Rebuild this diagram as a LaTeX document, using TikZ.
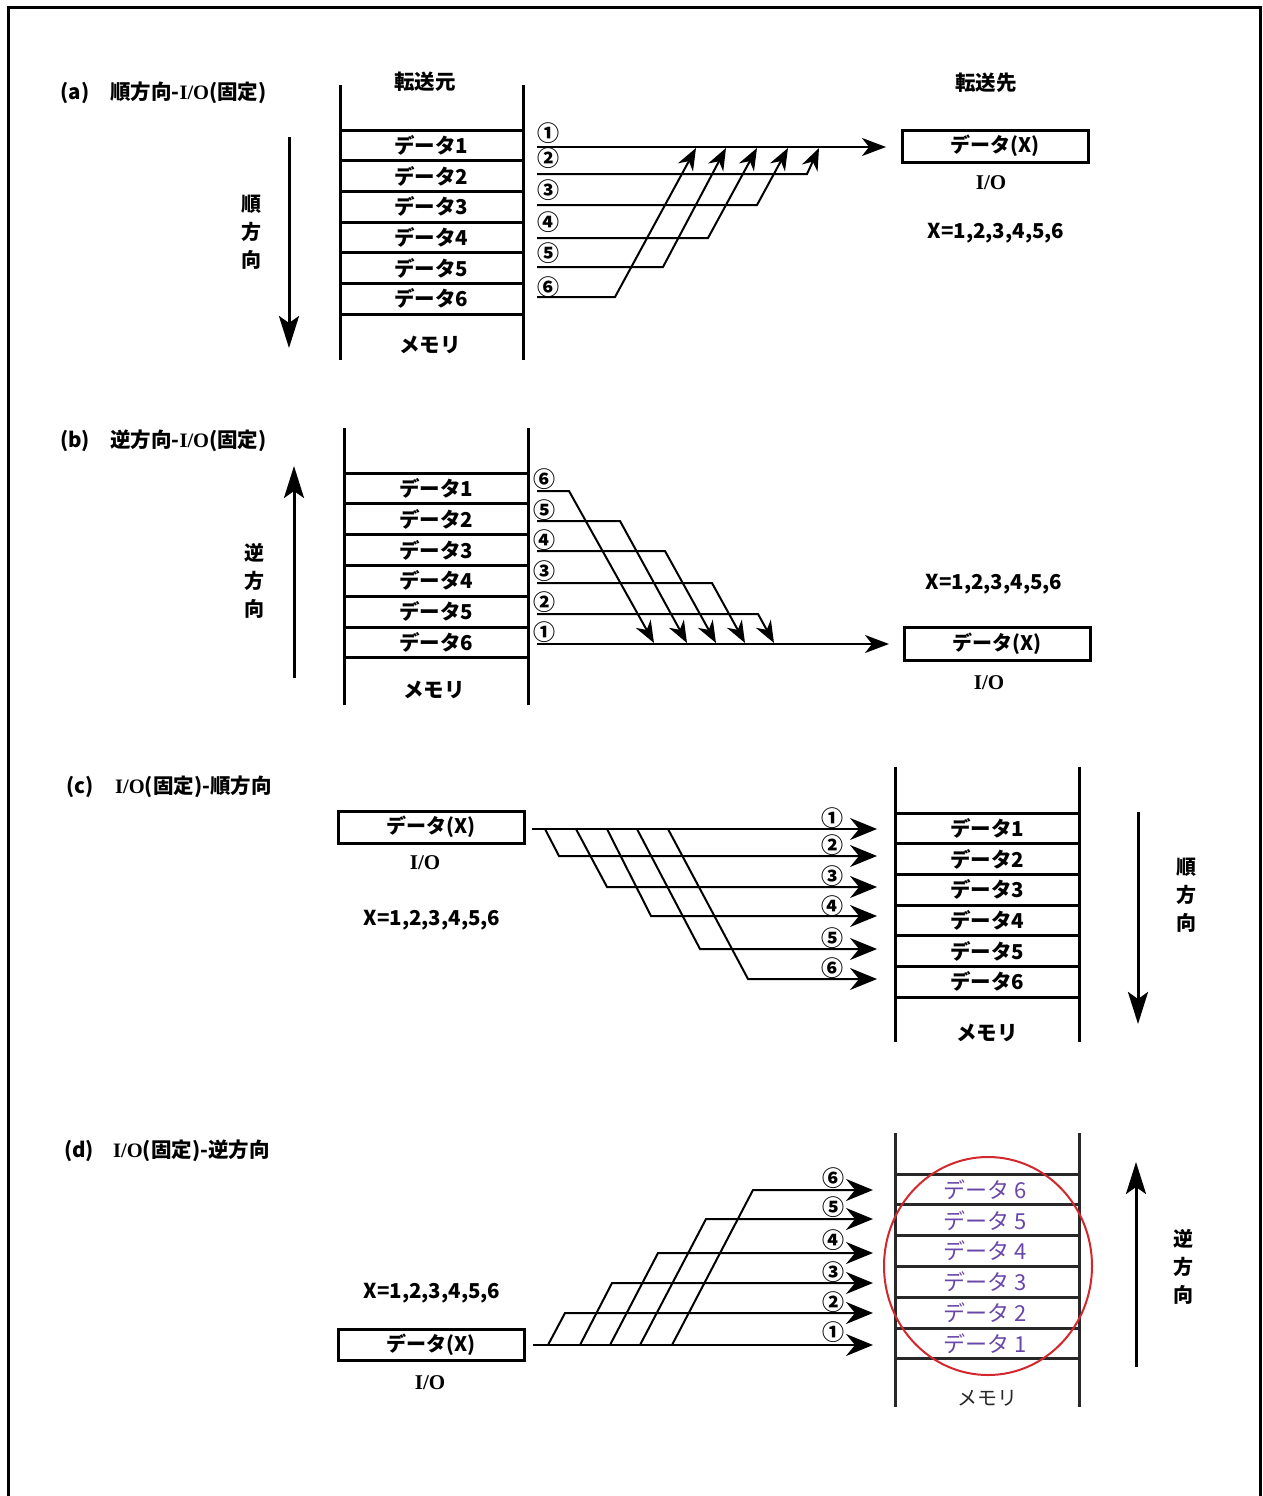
\documentclass[tikz,border=0pt]{standalone}
\usepackage{fontspec}
\newfontfamily\jp{Noto Sans CJK JP}
\newfontfamily\ioser{Liberation Serif}
\usetikzlibrary{arrows.meta}
\definecolor{dpurple}{RGB}{105,70,170}
\definecolor{cred}{RGB}{210,40,45}
\definecolor{dgray}{RGB}{40,40,40}
\begin{document}
\begin{tikzpicture}[x=1pt,y=-1pt,
  frame/.style={line width=3pt},
  mem/.style={line width=3pt},
  wire/.style={line width=2pt},
  bigarrow/.style={line width=3pt,-{Stealth[length=32pt,width=20pt,inset=7pt]}},
  tipbig/.style={-{Stealth[length=27pt,width=22pt,inset=9pt]}},
  tipmid/.style={-{Stealth[length=24pt,width=18pt,inset=7pt]}},
  tipsm/.style={-{Stealth[length=22pt,width=17pt,inset=7pt]}},
  jtxt/.style={font=\jp\bfseries\fontsize{20.5}{22}\selectfont,inner sep=0pt},
  vtxt/.style={font=\jp\bfseries\fontsize{20}{28}\selectfont,inner sep=0pt,align=center},
  ntxt/.style={font=\jp\bfseries\fontsize{22}{22}\selectfont,inner sep=0pt},
  iotxt/.style={font=\ioser\bfseries\fontsize{21}{21}\selectfont,inner sep=0pt},
  pdata/.style={font=\jp\fontsize{22}{22}\selectfont,inner sep=0pt,text=dpurple},
  iobox/.style={draw,line width=3pt,minimum width=186pt,minimum height=32pt,inner sep=0pt,
    font=\jp\bfseries\fontsize{20}{22}\selectfont}
]
\useasboundingbox (0,0) rectangle (1263,1496);
% frame
\coordinate (fbl) at (8,1496); \coordinate (ftl) at (8,8);
\coordinate (ftr) at (1260,8); \coordinate (fbr) at (1260,1496);
\draw[frame] (fbl) -- (ftl) -- (ftr) -- (fbr);

% ================= (a) =================
\node[jtxt] (ta) at (75,93) {(a)};
\node[jtxt,anchor=west] (tta) at (110,93) {順方向-{\ioser I/O}(固定)};
\node[jtxt] (srcA) at (425,82) {転送元};
\node[jtxt] (dstA) at (986,83) {転送先};
\draw[mem] (340,85) -- (340,360);
\draw[mem] (523,85) -- (523,360);
\foreach \i in {0,...,6} \draw[mem] (340,{130+30.67*\i}) -- (523,{130+30.67*\i});
\foreach \i in {1,...,6} \node[jtxt] (ma\i) at (431,{130+30.67*(\i-0.5)}) {データ\i};
\node[jtxt] (mema) at (430,345) {メモリ};
\node[vtxt] (dira) at (251,232) {順\\方\\向};
\coordinate (arA1) at (289,137); \coordinate (arA2) at (289,348);
\draw[bigarrow] (arA1) -- (arA2);
\node[iobox] (ioA) at (995,146) {データ(X)};
\node[iotxt] (ioAl) at (991,183) {I/O};
\node[jtxt] (xA) at (996,233) {X=1,2,3,4,5,6};
% circled numbers
\foreach \n/\y in {①/133,②/158,③/190,④/222,⑤/253,⑥/287}
  \node[ntxt] at (548,\y) {\n};
\coordinate (a1s) at (537,147);
\coordinate (a1t) at (886,147);
\draw[wire,tipmid] (a1s) -- (a1t);
\foreach \k/\y/\xe/\xt in {2/174/807/819,3/205/757/788,4/238/708/757,5/267/663/726,6/297/615/696}{
  \coordinate (aS\k) at (537,\y);
  \coordinate (aE\k) at (\xe,\y);
  \coordinate (aT\k) at (\xt,148);
  \draw[wire,tipsm] (aS\k) -- (aE\k) -- (aT\k);
}

% ================= (b) =================
\node[jtxt] (tb) at (75,441) {(b)};
\node[jtxt,anchor=west] (ttb) at (110,441) {逆方向-{\ioser I/O}(固定)};
\draw[mem] (344,428) -- (344,705);
\draw[mem] (528,428) -- (528,705);
\foreach \i in {0,...,6} \draw[mem] (344,{473+30.83*\i}) -- (528,{473+30.83*\i});
\foreach \i in {1,...,6} \node[jtxt] (mb\i) at (436,{473+30.83*(\i-0.5)}) {データ\i};
\node[jtxt] (memb) at (434,690) {メモリ};
\node[vtxt] (dirb) at (254,581) {逆\\方\\向};
\coordinate (arB1) at (294,678); \coordinate (arB2) at (294,466);
\draw[bigarrow] (arB1) -- (arB2);
\node[iobox,minimum height=33pt] (ioB) at (997,643.5) {データ(X)};
\node[iotxt] (ioBl) at (989,683) {I/O};
\node[jtxt] (xB) at (994,584) {X=1,2,3,4,5,6};
\foreach \n/\y in {⑥/479,⑤/510,④/540,③/571,②/602,①/632}
  \node[ntxt] at (544,\y) {\n};
\coordinate (b1s) at (537,644);
\coordinate (b1t) at (889,644);
\draw[wire,tipmid] (b1s) -- (b1t);
\foreach \k/\y/\xe/\xt in {2/614/758/774,3/583/712/745,4/551/665/716,5/521/620/687,6/491/569/654}{
  \coordinate (bS\k) at (537,\y);
  \coordinate (bE\k) at (\xe,\y);
  \coordinate (bT\k) at (\xt,643);
  \draw[wire,tipsm] (bS\k) -- (bE\k) -- (bT\k);
}

% ================= (c) =================
\node[jtxt] (tc) at (80,787) {(c)};
\node[jtxt,anchor=west] (ttc) at (115,787) {{\ioser I/O}(固定)-順方向};
\node[iobox] (ioC) at (431,827) {データ(X)};
\node[iotxt] (ioCl) at (425,863) {I/O};
\node[jtxt] (xC) at (432,920) {X=1,2,3,4,5,6};
\draw[mem] (895,767) -- (895,1042);
\draw[mem] (1079,767) -- (1079,1042);
\foreach \i in {0,...,6} \draw[mem] (895,{813+30.67*\i}) -- (1079,{813+30.67*\i});
\foreach \i in {1,...,6} \node[jtxt] (mc\i) at (987,{813+30.67*(\i-0.5)}) {データ\i};
\node[jtxt] (memc) at (987,1033) {メモリ};
\node[vtxt] (dirc) at (1186,895) {順\\方\\向};
\coordinate (arC1) at (1138,812); \coordinate (arC2) at (1138,1024);
\draw[bigarrow] (arC1) -- (arC2);
\foreach \n/\y in {①/818,②/845,③/876,④/906,⑤/938,⑥/968}
  \node[ntxt] at (832,\y) {\n};
\coordinate (c1s) at (532,829);
\coordinate (c1t) at (877,829);
\draw[wire,tipbig] (c1s) -- (c1t);
\foreach \k/\y/\xb/\xc in {2/856/545/559,3/887/576/607,4/916/607/651,5/949/637/700,6/979/668/748}{
  \coordinate (cB\k) at (\xb,829);
  \coordinate (cC\k) at (\xc,\y);
  \coordinate (cT\k) at (877,\y);
  \draw[wire,tipbig] (cB\k) -- (cC\k) -- (cT\k);
}

% ================= (d) =================
\node[jtxt] (td) at (79,1151) {(d)};
\node[jtxt,anchor=west] (ttd) at (113,1151) {{\ioser I/O}(固定)-逆方向};
\node[iobox,minimum height=31pt] (ioD) at (431,1344.5) {データ(X)};
\node[iotxt] (ioDl) at (430,1383) {I/O};
\node[jtxt] (xD) at (432,1293) {X=1,2,3,4,5,6};
\draw[mem,dgray] (895,1133) -- (895,1407);
\draw[mem,dgray] (1079,1133) -- (1079,1407);
\foreach \i in {0,...,6} \draw[mem,dgray] (895,{1174+30.83*\i}) -- (1079,{1174+30.83*\i});
\foreach \i in {1,...,6} \node[pdata] (md\i) at (985,{1174+30.83*(6-\i+0.5)}) {データ \i};
\node[font=\jp\fontsize{20}{20}\selectfont,text=dgray,inner sep=0pt] (memd) at (987,1398) {メモリ};
\draw[cred,line width=2pt] (988,1266) ellipse [x radius=104, y radius=109];
\node[vtxt] (dird) at (1183,1267) {逆\\方\\向};
\coordinate (arD1) at (1136,1367); \coordinate (arD2) at (1136,1162);
\draw[bigarrow] (arD1) -- (arD2);
\foreach \n/\y in {①/1332,②/1302,③/1272,④/1240,⑤/1207,⑥/1178}
  \node[ntxt] at (833,\y) {\n};
\coordinate (d1s) at (533,1345);
\coordinate (d1t) at (873,1345);
\draw[wire,tipbig] (d1s) -- (d1t);
\foreach \k/\y/\xb/\xc in {2/1313/548/565,3/1283/580/612,4/1253/610/658,5/1219/640/706,6/1190/672/753}{
  \coordinate (dB\k) at (\xb,1345);
  \coordinate (dC\k) at (\xc,\y);
  \coordinate (dT\k) at (873,\y);
  \draw[wire,tipbig] (dB\k) -- (dC\k) -- (dT\k);
}
\end{tikzpicture}
\end{document}
